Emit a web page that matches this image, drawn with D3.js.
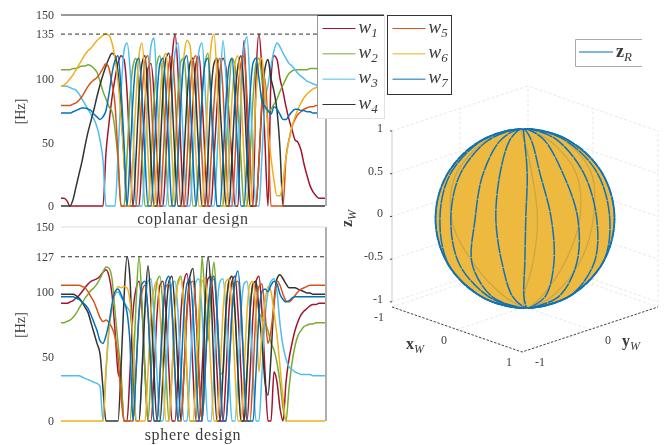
<!DOCTYPE html>
<html>
<head>
<meta charset="utf-8">
<script src="https://cdnjs.cloudflare.com/ajax/libs/d3/7.8.5/d3.min.js"></script>
<style>
html, body {margin: 0; padding: 0; background: #fff;}
svg {display: block; filter: blur(0.5px);}
text {font-family: "Liberation Serif", serif; fill: #3c3c3c;}
</style>
</head>
<body>
<svg id="chart" width="667" height="445"></svg>
<script>
// Motor speeds, one sample every 3 px of the plot width
var coplanarW1 = [
    6,6,4,0,0,0,0,0,0,0,
    0,0,0,0,0,42,65,85,100,112,
    118,115,90,40,0,0,0,38,80,108,
    112,88,40,0,0,38,85,116,135,105,
    42,0,0,36,82,112,118,86,38,0,
    0,37,78,106,116,108,70,36,0,0,
    80,130,70,0,0,100,135,105,50,0,
    100,118,115,100,90,78,68,60,52,50,
    44,33,24,16,11,8,6,6,6];
var coplanarW2 = [
    107,107,107,107,108,108,109,110,110,111,
    110,108,105,98,90,84,78,74,60,36,
    0,0,38,84,110,116,90,40,0,0,
    36,82,112,118,88,38,0,0,40,88,
    114,116,84,36,0,0,38,86,112,120,
    85,36,0,0,0,40,90,116,110,76,
    36,0,0,38,84,112,116,100,80,74,
    76,80,84,90,95,100,104,106,107,107,
    107,107,107,108,108,108,107,107,106];
var coplanarW3 = [
    94,94,94,93,92,91,88,84,80,76,
    72,68,62,52,36,0,0,0,0,40,
    88,122,128,108,60,0,0,0,38,90,
    126,132,90,38,0,0,36,88,120,128,
    90,36,0,0,38,84,122,128,95,38,
    0,0,36,90,130,100,40,0,0,38,
    86,124,133,95,38,0,0,40,82,95,
    110,122,128,125,120,116,112,110,107,104,
    102,100,98,97,96,95,94,94,94];
var coplanarW4 = [
    0,0,0,0,5,15,25,35,47,58,
    67,76,86,95,103,110,116,120,118,105,
    76,38,0,0,0,38,86,112,118,84,
    36,0,0,40,90,116,120,86,36,0,
    0,38,84,112,116,84,36,0,0,38,
    88,112,116,80,38,0,0,38,84,110,
    118,90,38,0,0,0,36,80,108,115,
    100,90,75,45,0,0,0,0,0,0,
    0,0,0,0,0,0,0,0,0];
var coplanarW5 = [
    79,79,79,79,80,81,83,86,90,94,
    97,99,101,104,108,112,108,96,80,40,
    0,0,0,0,0,0,38,86,114,118,
    88,38,0,0,36,84,112,118,90,38,
    0,0,36,86,114,118,84,38,0,0,
    36,80,108,116,90,38,0,0,36,90,
    112,118,86,38,0,0,36,84,100,60,
    0,0,0,0,0,38,52,62,68,72,
    74,76,77,78,78,79,79,79,79];
var coplanarW6 = [
    94,95,97,100,103,107,111,115,119,122,
    124,127,130,132,134,135,134,128,116,98,
    70,36,0,0,38,84,118,128,96,40,
    0,0,38,82,114,120,88,40,0,36,
    88,118,130,126,90,38,0,0,38,90,
    125,135,100,40,0,0,38,84,112,118,
    88,38,0,0,36,86,112,116,88,60,
    38,20,8,8,20,38,52,62,70,76,
    81,85,88,90,92,93,94,94,94];
var coplanarW7 = [
    73,73,73,73,74,75,76,77,77,76,
    75,72,70,68,70,75,88,104,114,118,
    92,50,0,38,84,112,116,86,38,0,
    0,36,86,112,116,88,40,0,0,38,
    84,114,118,86,36,0,36,84,112,116,
    84,38,0,0,36,82,110,116,84,36,
    0,0,38,86,112,116,100,82,78,75,
    72,78,76,72,68,68,71,74,76,76,
    75,75,74,74,73,73,73,73,73];

var sphereW1 = [
    91,91,91,92,93,95,97,100,103,106,
    108,109,110,112,115,117,112,98,70,38,
    30,0,0,38,84,102,108,86,38,0,
    0,36,82,105,108,84,38,0,0,36,
    84,108,114,88,38,0,0,38,86,110,
    112,84,38,0,0,36,85,108,112,84,
    38,0,0,36,82,108,112,84,38,0,
    0,38,30,10,0,30,48,60,70,77,
    82,85,87,89,90,90,91,91,91];
var sphereW2 = [
    76,76,77,78,80,83,87,91,95,98,
    101,103,106,110,115,119,118,110,85,60,
    38,0,0,0,36,90,127,92,38,0,
    38,82,108,112,86,38,0,36,84,108,
    112,86,36,0,0,0,60,127,92,62,
    100,123,84,36,38,84,108,112,84,38,
    0,0,36,84,106,108,84,80,76,70,
    60,55,45,30,10,0,25,45,58,66,
    70,73,74,75,75,76,76,76,76];
var sphereW3 = [
    35,35,35,35,35,35,35,34,33,32,
    31,30,29,27,0,38,70,88,98,100,
    96,92,88,84,60,0,0,38,86,108,
    110,82,36,0,0,38,84,106,108,84,
    36,0,0,38,84,108,110,84,36,0,
    0,38,86,108,110,84,38,0,0,36,
    84,106,108,84,38,0,0,38,80,100,
    108,110,100,75,58,48,42,40,38,37,
    36,36,36,36,35,35,35,35,35];
var sphereW4 = [
    98,98,98,98,98,97,95,92,88,84,
    76,68,60,52,25,0,0,0,0,0,
    40,95,127,110,42,0,0,38,88,120,
    90,38,0,0,36,82,108,112,84,38,
    0,38,86,112,118,84,36,0,88,127,
    100,38,0,0,38,86,108,112,84,36,
    0,0,38,84,106,108,84,60,30,20,
    50,92,110,113,110,106,103,103,103,102,
    101,100,99,99,98,98,98,98,98];
var sphereW5 = [
    105,105,105,105,105,105,105,104,103,100,
    96,92,86,80,77,78,76,72,65,50,
    20,0,0,0,0,38,82,100,105,84,
    38,0,0,36,84,104,106,84,36,0,
    0,38,84,106,108,84,36,0,38,84,
    104,110,84,36,0,0,38,84,106,108,
    84,38,0,0,36,84,104,106,84,60,
    70,90,108,105,98,93,92,94,97,100,
    102,103,104,105,105,105,105,105,105];
var sphereW6 = [
    0,0,0,0,0,0,0,0,0,0,
    0,0,0,0,0,40,72,88,98,104,
    103,104,103,92,60,0,0,0,0,38,
    84,102,108,84,36,0,0,38,84,106,
    110,86,38,0,0,36,86,108,110,84,
    38,0,0,36,84,108,110,84,38,0,
    0,36,84,106,108,84,38,70,92,104,
    100,84,66,42,18,0,0,0,0,0,
    0,0,0,0,0,0,0,0,0];
var sphereW7 = [
    96,96,96,96,96,95,94,92,90,87,
    82,76,70,62,60,66,76,90,100,102,
    98,92,84,60,0,38,84,106,108,84,
    38,0,0,36,84,108,112,88,38,0,
    36,84,106,110,84,38,0,0,36,84,
    108,112,84,38,0,0,38,84,108,116,
    90,38,0,0,0,38,82,100,102,100,
    105,108,106,98,94,92,93,95,96,96,
    96,96,96,96,96,96,96,96,96];

var motorColors = ["#a2142f", "#77ac30", "#4dbeee", "#333333", "#d95319", "#edb120", "#0072bd"];
var coplanarTicks = [0, 50, 100, 135, 150];
var sphereTicks = [0, 50, 100, 127, 150];

// zR curves on the sphere: longitude seen from the viewer at each latitude
var curveLats = [88, 80, 60, 30, 0, -30, -60, -80, -88];
var frontCurves = [
    [-90, -90, -90, -90, -90, -90, -90, -90, -90],
    [-75, -78, -76, -74, -72, -85, -88, -80, -70],
    [-50, -55, -56, -56, -56, -59, -58, -52, -45],
    [-30, -32, -32, -32, -34, -44, -51, -40, -25],
    [-15, -18, -18, -18, -19, -18, -19, -15, -8],
    [1, 2, 2, 2.5, 0.5, -1, -4, -4, -3],
    [8, 10, 11, 12, 17, 21, 25, 18, 10],
    [25, 28, 29, 30, 36, 41, 48, 38, 22],
    [45, 48, 50, 50, 53, 62, 85, 60, 35],
    [65, 68, 70, 70, 71, 88, 90, 75, 55],
    [90, 90, 90, 90, 90, 90, 90, 90, 90]
];
var backCurves = [
    [-55, -55, -60, -62, -55, -42, -30, -20, -10],
    [-8, -6, 2, 6, 8, 5, -4, -12, -15],
    [25, 26, 36, 42, 38, 30, 20, 12, 6],
    [60, 62, 66, 60, 50, 44, 36, 25, 15]
];

var zTicks = [-1, -0.5, 0, 0.5, 1];
var xTicks = [-1, 0, 1];
var yTicks = [-1, 0];
var legendLeft = ["1", "2", "3", "4"];
var legendRight = ["5", "6", "7"];

var svg = d3.select("#chart");

function sub(el, base, low, baseStyle, size) {
    var t = el.append("tspan").text(base);
    if (baseStyle == "bold") t.attr("font-weight", "bold");
    else t.attr("font-style", "italic");
    el.append("tspan")
        .attr("font-style", "italic")
        .attr("font-size", size)
        .attr("dy", 4)
        .text(low);
}

function drawPlot(series, ticks, dashValue, top, bottom, caption, captionY, topColor) {
    var x = d3.scaleLinear().domain([0, 88]).range([61, 325]);
    var y = d3.scaleLinear().domain([0, 150]).range([bottom, top]);
    var g = svg.append("g");

    var line = d3.line()
        .x(function(d, i) {return x(i);})
        .y(function(d) {return y(d);})
        .curve(d3.curveMonotoneX);

    g.selectAll(".motor")
        .data(series)
        .enter()
        .append("path")
        .attr("d", line)
        .attr("fill", "none")
        .attr("stroke", function(d, i) {return motorColors[i];})
        .attr("stroke-width", 1.5);

    g.append("line")
        .attr("x1", 61).attr("x2", 326)
        .attr("y1", y(dashValue)).attr("y2", y(dashValue))
        .attr("stroke", "#333")
        .attr("stroke-dasharray", "4 3");

    // box edges
    g.append("line").attr("x1", 326).attr("x2", 326).attr("y1", top).attr("y2", bottom).attr("stroke", "#777").attr("stroke-width", 1.2);
    g.append("line").attr("x1", 61).attr("x2", 326).attr("y1", top).attr("y2", top).attr("stroke", topColor);

    var axis = d3.axisLeft(y).tickValues(ticks).tickSize(0).tickPadding(7).tickFormat(d3.format("d"));
    var ax = g.append("g").attr("transform", "translate(61,0)").call(axis);
    ax.select(".domain").remove();
    ax.selectAll("text").attr("font-size", 12).attr("font-family", "Liberation Serif").attr("fill", "#3c3c3c");

    g.append("text")
        .attr("transform", "translate(25," + (y(75) + 1) + ") rotate(-90)")
        .attr("text-anchor", "middle")
        .attr("font-size", 14)
        .text("[Hz]");

    g.append("text")
        .attr("x", 193).attr("y", captionY)
        .attr("text-anchor", "middle")
        .attr("font-size", 16)
        .attr("letter-spacing", 0.7)
        .text(caption);
}

drawPlot([coplanarW1, coplanarW2, coplanarW3, coplanarW4, coplanarW5, coplanarW6, coplanarW7],
    coplanarTicks, 135, 15, 206, "coplanar design", 224, "#333");
drawPlot([sphereW1, sphereW2, sphereW3, sphereW4, sphereW5, sphereW6, sphereW7],
    sphereTicks, 127, 227, 421, "sphere design", 440, "#ddd");

// top line runs on under the legend
svg.append("line").attr("x1", 326).attr("x2", 384).attr("y1", 15).attr("y2", 15).attr("stroke", "#333");

function drawLegend(labels, colors, bx, by, bw, bh, stroke) {
    var g = svg.append("g");
    g.append("rect")
        .attr("x", bx).attr("y", by).attr("width", bw).attr("height", bh)
        .attr("fill", "#fff")
        .attr("stroke", stroke);
    var row = d3.scaleLinear().domain([0, 3]).range([by + 13, by + 89]);
    labels.forEach(function(label, i) {
        g.append("line")
            .attr("x1", bx + 5).attr("x2", bx + 38)
            .attr("y1", row(i)).attr("y2", row(i))
            .attr("stroke", colors[i]);
        var t = g.append("text")
            .attr("x", bx + 41).attr("y", row(i) + 4)
            .attr("font-size", 19);
        sub(t, "w", label, "italic", 13);
    });
}

drawLegend(legendLeft, motorColors.slice(0, 4), 317.5, 15.5, 67, 103, "#e2e2e2");
svg.append("line").attr("x1", 317.5).attr("x2", 317.5).attr("y1", 15).attr("y2", 118).attr("stroke", "#999");
svg.append("line").attr("x1", 317.5).attr("x2", 384).attr("y1", 15.5).attr("y2", 15.5).attr("stroke", "#333");
drawLegend(legendRight, motorColors.slice(4), 387.5, 15.5, 64, 79, "#333");

// zR legend, open on the right
var zLegend = svg.append("g");
zLegend.append("path")
    .attr("d", d3.line()([[642, 39.5], [575.5, 39.5], [575.5, 66.5], [642, 66.5]]))
    .attr("fill", "none")
    .attr("stroke", "#aaa");
zLegend.append("line")
    .attr("x1", 579).attr("x2", 613).attr("y1", 52).attr("y2", 52)
    .attr("stroke", "#0072bd")
    .attr("stroke-width", 1.2);
var zText = zLegend.append("text").attr("x", 616).attr("y", 57).attr("font-size", 18);
sub(zText, "z", "R", "bold", 13);

// 3D box
var xAcross = d3.scaleLinear().domain([-1, 1]).range([0, 130]);
var yAcross = d3.scaleLinear().domain([-1, 1]).range([0, 136]);
var xDown = d3.scaleLinear().domain([-1, 1]).range([0, 45]);
var yDown = d3.scaleLinear().domain([-1, 1]).range([0, -45]);
var zUp = d3.scaleLinear().domain([-1.06, 1]).range([0, -176]);

function box(x, y, z) {
    return [392 + xAcross(x) + yAcross(y), 307 + xDown(x) + yDown(y) + zUp(z)];
}

var grid = svg.append("g")
    .attr("fill", "none")
    .attr("stroke", "#e2e2e2")
    .attr("stroke-width", 0.8)
    .attr("stroke-dasharray", "3 2");
var boxLine = d3.line();
zTicks.forEach(function(z) {
    grid.append("path").attr("d", boxLine([box(-1, -1, z), box(-1, 1, z), box(1, 1, z)]));
});
grid.append("path").attr("d", boxLine([box(-1, 0, -1.06), box(-1, 0, 1)]));
grid.append("path").attr("d", boxLine([box(0, 1, -1.06), box(0, 1, 1)]));
grid.append("path").attr("d", boxLine([box(-1, 0, -1.06), box(1, 0, -1.06)]));
grid.append("path").attr("d", boxLine([box(0, -1, -1.06), box(0, 1, -1.06)]));
grid.append("path").attr("d", boxLine([box(-1, 1, -1.06), box(-1, 1, 1)]));
grid.append("path").attr("d", boxLine([box(-1, -1, -1.06), box(-1, 1, -1.06), box(1, 1, -1.06)]));
grid.append("path").attr("d", boxLine([box(1, 1, -1.06), box(1, 1, 1)]));

var axes3d = svg.append("g").attr("fill", "none");
axes3d.append("path")
    .attr("d", boxLine([box(-1, -1, -1.06), box(1, -1, -1.06), box(1, 1, -1.06)]))
    .attr("stroke", "#444")
    .attr("stroke-dasharray", "2.5 1.5");
axes3d.append("path")
    .attr("d", boxLine([box(-1, -1, -1), box(-1, -1, 1)]))
    .attr("stroke", "#ccc");

zTicks.forEach(function(z) {
    var p = box(-1, -1, z);
    svg.append("text")
        .attr("x", p[0] - 9).attr("y", p[1] + 1)
        .attr("text-anchor", "end")
        .attr("font-size", 12)
        .text(z);
    svg.append("line")
        .attr("x1", p[0] - 2).attr("x2", p[0])
        .attr("y1", p[1]).attr("y2", p[1])
        .attr("stroke", "#444");
});
xTicks.forEach(function(v) {
    var p = box(v, -1, -1.06);
    svg.append("text")
        .attr("x", p[0] - 13).attr("y", p[1] + 14)
        .attr("text-anchor", "middle")
        .attr("font-size", 12)
        .text(v);
});
yTicks.forEach(function(v) {
    var p = box(1, v, -1.06);
    svg.append("text")
        .attr("x", p[0] + 18).attr("y", p[1] + 14)
        .attr("text-anchor", "middle")
        .attr("font-size", 12)
        .text(v);
});

var xLabel = svg.append("text").attr("x", 406).attr("y", 349).attr("font-size", 16);
sub(xLabel, "x", "W", "bold", 12);
var yLabel = svg.append("text").attr("x", 622).attr("y", 346).attr("font-size", 16);
sub(yLabel, "y", "W", "bold", 12);
var zLabel = svg.append("text")
    .attr("transform", "translate(352,227) rotate(-90)")
    .attr("font-size", 16);
sub(zLabel, "z", "W", "bold", 12);

// Sphere
var projection = d3.geoOrthographic()
    .scale(89.5)
    .translate([525, 218.5])
    .rotate([0, 0, 1.5])
    .clipAngle(90);
var geoPath = d3.geoPath(projection);

svg.append("path")
    .datum({type: "Sphere"})
    .attr("d", geoPath)
    .attr("fill", "#edb93f");

var curveLine = d3.line()
    .x(function(d) {return d[0];})
    .y(function(d) {return d[1];})
    .curve(d3.curveCatmullRom);

function curvePoints(lons) {
    return lons.map(function(lon, i) {return projection([lon, curveLats[i]]);});
}

svg.selectAll(".back")
    .data(backCurves)
    .enter()
    .append("path")
    .attr("d", function(d) {return curveLine(curvePoints(d));})
    .attr("fill", "none")
    .attr("stroke", "#c9a548")
    .attr("stroke-width", 1.2);

svg.selectAll(".front")
    .data(frontCurves)
    .enter()
    .append("path")
    .attr("d", function(d) {return curveLine(curvePoints(d));})
    .attr("fill", "none")
    .attr("stroke", "#0f72b8")
    .attr("stroke-width", 1.5)
    .attr("stroke-dasharray", "14 0.7");

svg.append("path")
    .datum({type: "Sphere"})
    .attr("d", geoPath)
    .attr("fill", "none")
    .attr("stroke", "#0f72b8")
    .attr("stroke-width", 1.7)
    .attr("stroke-dasharray", "10 0.8");
</script>
</body>
</html>
